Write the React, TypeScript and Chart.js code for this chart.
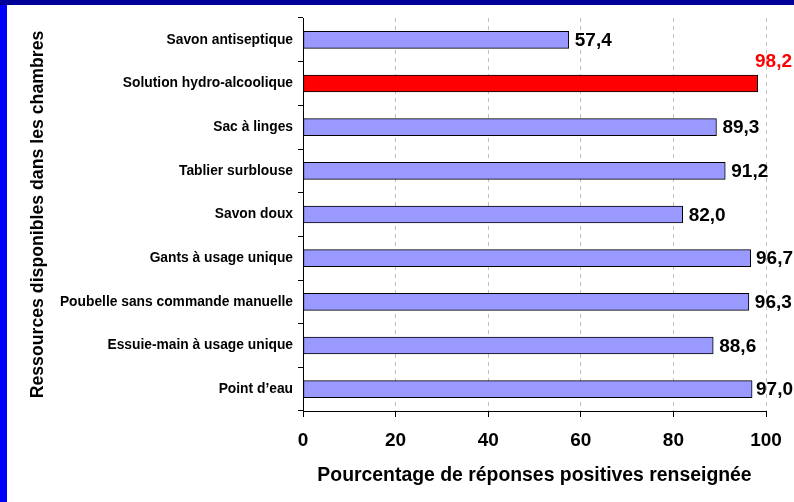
import React, { useEffect, useRef } from "react";
import { Chart, registerables } from "chart.js";

Chart.register(...registerables);

const categories = [
  "Savon antiseptique",
  "Solution hydro-alcoolique",
  "Sac à linges",
  "Tablier surblouse",
  "Savon doux",
  "Gants à usage unique",
  "Poubelle sans commande manuelle",
  "Essuie-main à usage unique",
  "Point d’eau",
];
const values = [57.4, 98.2, 89.3, 91.2, 82.0, 96.7, 96.3, 88.6, 97.0];
const highlightCategory = "Solution hydro-alcoolique";
const xTickValues = [0, 20, 40, 60, 80, 100];
const xTitle = "Pourcentage de réponses positives renseignée";
const yTitle = "Ressources disponibles dans les chambres";

const FONT = '"Liberation Sans", Arial, Helvetica, sans-serif';

const valueLabels = {
  id: "valueLabels",
  afterDatasetsDraw(chart: any) {
    const ctx = chart.ctx;
    const meta = chart.getDatasetMeta(0);
    ctx.save();
    ctx.font = `bold 19px ${FONT}`;
    ctx.textBaseline = "middle";
    meta.data.forEach((bar: any, i: number) => {
      const text = values[i].toFixed(1).replace(".", ",");
      const w = ctx.measureText(text).width;
      if (categories[i] === highlightCategory) {
        ctx.fillStyle = "#FF0000";
        ctx.fillText(text, chart.width - 2 - w, bar.y - 22);
      } else {
        ctx.fillStyle = "#000000";
        ctx.fillText(text, Math.min(bar.x + 6, chart.width - 1 - w), bar.y + 1);
      }
    });
    ctx.restore();
  },
};

export default function App() {
  const canvasRef = useRef<HTMLCanvasElement | null>(null);

  useEffect(() => {
    document.body.style.margin = "0";
    const canvas = canvasRef.current;
    if (!canvas) return;
    const chart = new Chart(canvas, {
      type: "bar",
      data: {
        labels: categories,
        datasets: [
          {
            data: values,
            backgroundColor: categories.map((c) => (c === highlightCategory ? "#FF0000" : "#9999FF")),
            borderColor: "#000000",
            borderWidth: 1,
            borderSkipped: false,
            barThickness: 17,
          },
        ],
      },
      options: {
        indexAxis: "y",
        animation: false,
        responsive: false,
        devicePixelRatio: 1,
        layout: { padding: { top: 18, right: 28, left: 0, bottom: 0 } },
        plugins: {
          legend: { display: false },
          tooltip: { enabled: false },
        },
        scales: {
          x: {
            type: "linear",
            min: 0,
            max: 100,
            afterBuildTicks: (scale: any) => {
              scale.ticks = xTickValues.map((v) => ({ value: v }));
            },
            afterFit: (scale: any) => {
              scale.height = 91;
            },
            ticks: {
              font: { family: FONT, size: 19, weight: "bold" },
              color: "#000000",
              padding: 12,
            },
            grid: {
              color: "#BFBFBF",
              tickColor: "#000000",
              tickLength: 6,
              tickBorderDash: [],
            },
            border: { color: "#000000", dash: [4, 4] },
            title: {
              display: true,
              text: xTitle,
              color: "#000000",
              font: { family: FONT, size: 19.4, weight: "bold" },
              padding: { top: 0, bottom: 15 },
            },
          },
          y: {
            type: "category",
            offset: true,
            afterFit: (scale: any) => {
              scale.width = 303;
            },
            ticks: {
              font: { family: FONT, size: 13.8, weight: "bold" },
              color: "#000000",
              padding: 5,
              autoSkip: false,
            },
            grid: {
              drawOnChartArea: false,
              color: "#000000",
              tickLength: 5,
              offset: true,
            },
            border: { color: "#000000" },
            title: {
              display: true,
              text: yTitle,
              color: "#000000",
              font: { family: FONT, size: 17.7, weight: "bold" },
              padding: { top: 27, bottom: 0 },
            },
          },
        },
      },
      plugins: [valueLabels],
    } as any);
    return () => chart.destroy();
  }, []);

  return (
    <div style={{ position: "relative", width: 794, height: 502, background: "#FFFFFF", overflow: "hidden" }}>
      <canvas ref={canvasRef} width={794} height={502} style={{ display: "block" }} />
      <div style={{ position: "absolute", left: 0, top: 0, width: 7, height: 502, background: "#0000FF" }} />
      <div style={{ position: "absolute", left: 0, top: 0, width: 794, height: 5, background: "#000099" }} />
    </div>
  );
}
